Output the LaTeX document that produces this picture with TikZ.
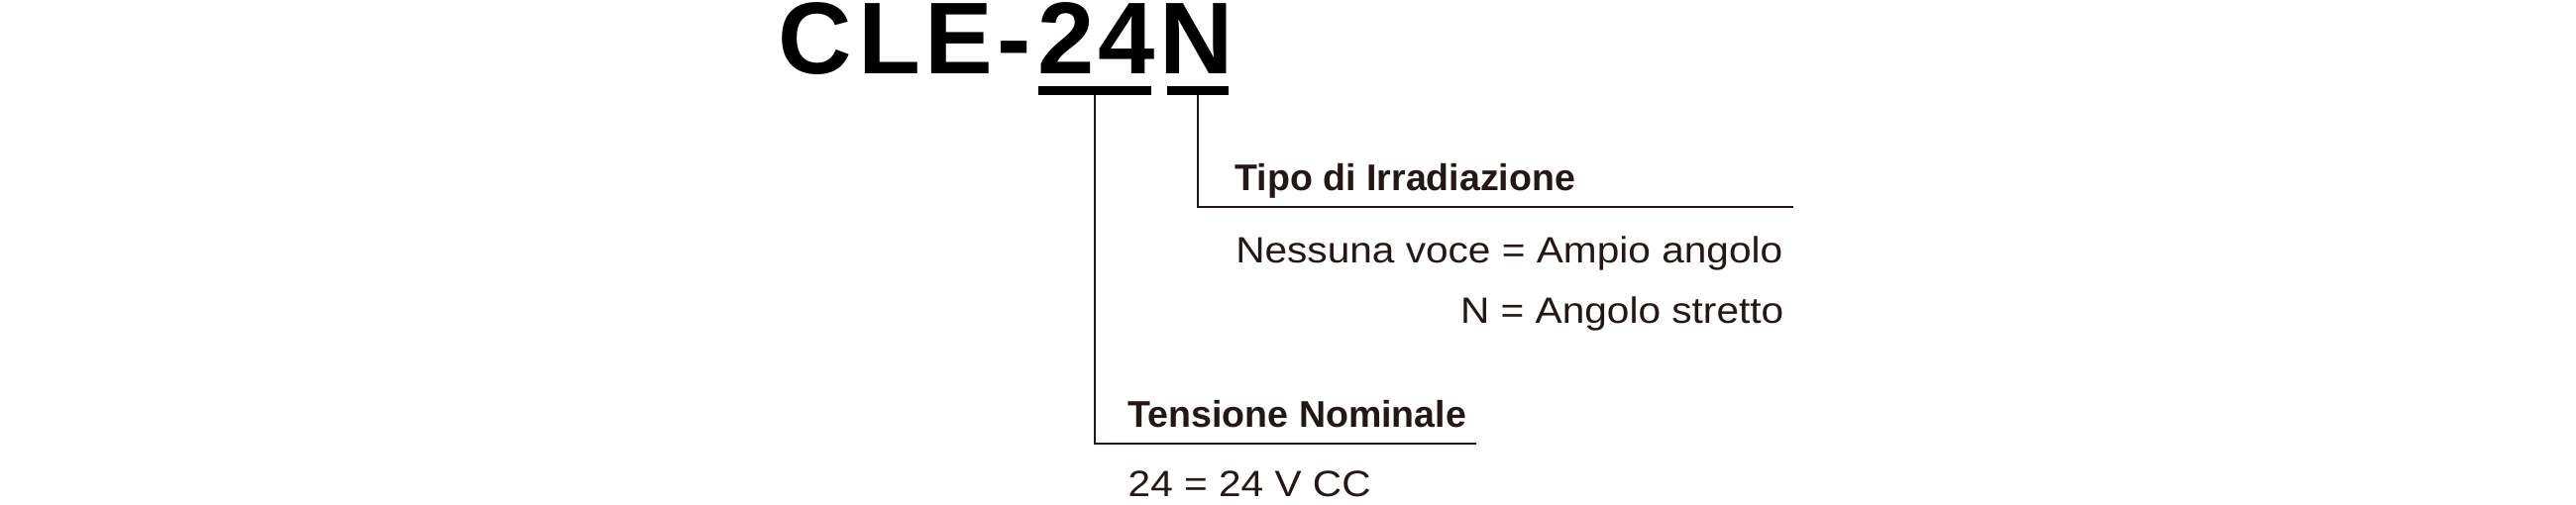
\documentclass[tikz,border=0pt]{standalone}
\usepackage{fontspec}
\setmainfont{Liberation Sans}
\newfontfamily\descfont[FakeStretch=1.1]{Liberation Sans}
\definecolor{ink}{HTML}{231815}
\begin{document}
\begin{tikzpicture}[x=0.01cm, y=0.01cm,
  code/.style={inner sep=0pt, anchor=base west, text height=0.72em, text depth=0pt, font=\bfseries\fontsize{29.3}{30}\selectfont},
  head/.style={inner sep=0pt, anchor=base west, text=ink, font=\bfseries\fontsize{10.67}{12}\selectfont},
  desc/.style={inner sep=0pt, text=ink, font=\descfont\fontsize{10.5}{12}\selectfont},
  lead/.style={draw=ink, line width=0.6pt}]
\useasboundingbox (0,0) rectangle (2600,-510);
% model code
\node[code] (model) at (784.5,-75) {C\kern.065em L\kern.04em E\kern.04em -};
\node[code] (volt) at (1047,-75) {2\kern.035em 4};
\node[code] (beam) at (1169.6,-75) {N};
\fill (1048,-87.5) rectangle (1162,-96);
\fill (1178,-87.5) rectangle (1240,-96);
\coordinate (volt bar) at (1105,-96);
\coordinate (beam bar) at (1209,-96);
% voltage
\node[head] (volt head) at (1138,-432) {Tensione Nominale};
\node[desc, anchor=base west] (volt desc) at (1138,-502) {24 = 24 V CC};
\coordinate (volt rule) at (1490,-448);
\draw[lead] (volt bar) |- (volt rule);
% beam type
\node[head] (beam head) at (1246,-193) {Tipo di Irradiazione};
\node[desc, anchor=base east] (beam wide) at (1800,-266) {Nessuna voce = Ampio angolo};
\node[desc, anchor=base east] (beam narrow) at (1801,-327) {N = Angolo stretto};
\coordinate (beam rule) at (1810,-209);
\draw[lead] (beam bar) |- (beam rule);
\end{tikzpicture}
\end{document}
